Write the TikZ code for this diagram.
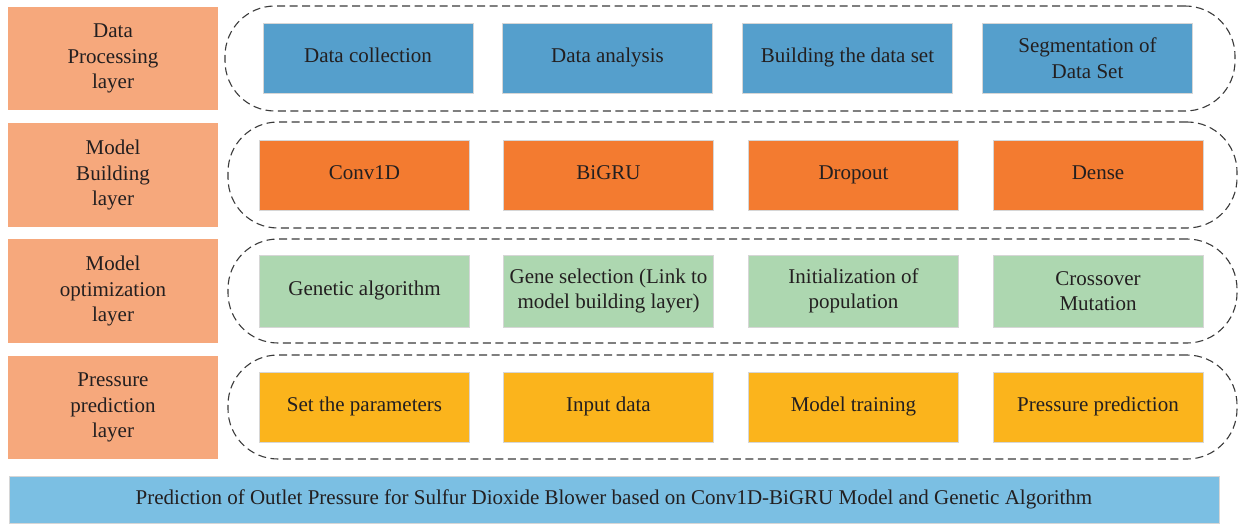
\documentclass[tikz,border=0pt]{standalone}
\usepackage{fontspec}
\setmainfont{Liberation Serif}
\definecolor{layerC}{HTML}{F6A87C}
\definecolor{blueC}{HTML}{559FCC}
\definecolor{orangeC}{HTML}{F37B30}
\definecolor{greenC}{HTML}{ADD7B0}
\definecolor{yellowC}{HTML}{FBB41C}
\definecolor{barC}{HTML}{7BBFE3}
\definecolor{inkC}{HTML}{231F20}
\definecolor{edgeC}{HTML}{D6D6D6}
\definecolor{dashC}{HTML}{3A3A3A}
\tikzset{
  txt/.style={text=inkC, font=\fontsize{21}{25.5}\selectfont, align=center},
  layerbox/.style={txt, rectangle, fill=layerC, minimum width=210pt, inner sep=0pt},
  blk/.style={txt, rectangle, draw=edgeC, line width=0.8pt, minimum width=210pt, minimum height=70pt, inner sep=0pt},
  oneline/.style={text height=14pt, text depth=5pt},
  group/.style={rectangle, draw=dashC, line width=1.1pt, dash pattern=on 8pt off 4.5pt, rounded corners=50pt, inner sep=0pt},
}
\begin{document}
\begin{tikzpicture}[x=1pt,y=-1pt]
\useasboundingbox (0,0) rectangle (1239,524);

% dashed groups around each row
\node[group, minimum width=1010pt, minimum height=105pt] (g1) at (730,58.5) {};
\node[group, minimum width=1009pt, minimum height=106pt] (g2) at (732.5,175) {};
\node[group, minimum width=1009pt, minimum height=104pt] (g3) at (732.5,291) {};
\node[group, minimum width=1009pt, minimum height=104pt] (g4) at (732.5,407) {};

% layer labels
\node[layerbox, minimum height=103pt] (l1) at (113,58.5) {Data\\Processing\\layer};
\node[layerbox, minimum height=104pt] (l2) at (113,175) {Model\\Building\\layer};
\node[layerbox, minimum height=104pt] (l3) at (113,291) {Model\\optimization\\layer};
\node[layerbox, minimum height=103pt] (l4) at (113,407.5) {Pressure\\prediction\\layer};

% data processing row
\node[blk, oneline, fill=blueC] (a1) at (368,58) {Data collection};
\node[blk, oneline, fill=blueC] (a2) at (607.5,58) {Data analysis};
\node[blk, oneline, fill=blueC] (a3) at (847.5,58) {Building the data set};
\node[blk, fill=blueC] (a4) at (1087.5,58) {Segmentation of\\Data Set};

% model building row
\node[blk, oneline, fill=orangeC] (b1) at (364.5,175) {Conv1D};
\node[blk, oneline, fill=orangeC] (b2) at (608.5,175) {BiGRU};
\node[blk, oneline, fill=orangeC] (b3) at (853.5,175) {Dropout};
\node[blk, oneline, fill=orangeC] (b4) at (1098,175) {Dense};

% model optimization row
\node[blk, oneline, fill=greenC, minimum height=72pt] (c1) at (364.5,291) {Genetic algorithm};
\node[blk, fill=greenC, minimum height=72pt] (c2) at (608.5,291) {Gene selection (Link to\\model building layer)};
\node[blk, fill=greenC, minimum height=72pt] (c3) at (853.5,291) {Initialization of\\population};
\node[blk, fill=greenC, minimum height=72pt] (c4) at (1098,291) {Crossover\\Mutation};

% pressure prediction row
\node[blk, oneline, fill=yellowC] (d1) at (364.5,407) {Set the parameters};
\node[blk, oneline, fill=yellowC] (d2) at (608.5,407) {Input data};
\node[blk, oneline, fill=yellowC] (d3) at (853.5,407) {Model training};
\node[blk, oneline, fill=yellowC] (d4) at (1098,407) {Pressure prediction};

% title bar
\node[blk, oneline, fill=barC, minimum width=1210pt, minimum height=47pt] (bar) at (614,499.5)
  {Prediction of Outlet Pressure for Sulfur Dioxide Blower based on Conv1D-BiGRU Model and Genetic Algorithm};
\end{tikzpicture}
\end{document}
